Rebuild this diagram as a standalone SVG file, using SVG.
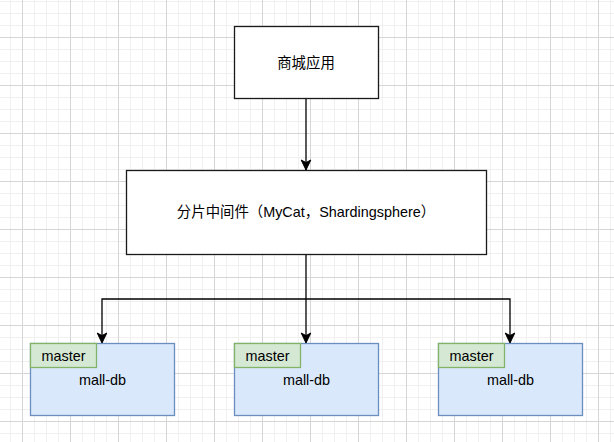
<svg xmlns="http://www.w3.org/2000/svg" width="614" height="442" viewBox="0 0 614 442">
<defs>
<pattern id="grid" x="22" y="37" width="48" height="48" patternUnits="userSpaceOnUse">
<rect x="0" y="0" width="48" height="48" fill="#ffffff"/>
<g fill="#f0f0f0">
<rect x="12" y="0" width="1" height="48"/><rect x="24" y="0" width="1" height="48"/><rect x="36" y="0" width="1" height="48"/>
<rect x="0" y="12" width="48" height="1"/><rect x="0" y="24" width="48" height="1"/><rect x="0" y="36" width="48" height="1"/>
</g>
<g fill="#d6d6d6">
<rect x="0" y="0" width="1" height="48"/><rect x="0" y="0" width="48" height="1"/>
</g>
</pattern>
<marker id="arrow" viewBox="-1 -6 13 12" refX="10" refY="0" markerWidth="13" markerHeight="12" markerUnits="userSpaceOnUse" orient="auto">
<path d="M10,0 L0,-4.8 L2.6,0 L0,4.8 Z" fill="#000" stroke="#000" stroke-width="1"/>
</marker>
</defs>
<style>
.box{fill:#ffffff;stroke:#1a1a1a;stroke-width:1.3}
.db{fill:#dae8fc;stroke:#6c8ebf;stroke-width:1.3}
.tab{fill:#d5e8d4;stroke:#82b366;stroke-width:1.3}
.t{font-family:"Liberation Sans","Noto Sans CJK SC",sans-serif;font-size:14.4px;fill:#000;text-anchor:middle}
.edge{fill:none;stroke:#000;stroke-width:1.3}
</style>
<rect x="0" y="0" width="614" height="442" fill="url(#grid)"/>
<g id="connectors">
<path class="edge" d="M306,98.5 L306,170" marker-end="url(#arrow)"/>
<path class="edge" d="M306,254.5 L306,343" marker-end="url(#arrow)"/>
<path class="edge" d="M306,299 L102,299 L102,343" marker-end="url(#arrow)"/>
<path class="edge" d="M306,299 L510,299 L510,343" marker-end="url(#arrow)"/>
</g>
<g id="app">
<rect class="box" x="234.5" y="26.5" width="144" height="72"/>
<text class="t" x="306" y="67.5">商城应用</text>
</g>
<g id="middleware">
<rect class="box" x="126.5" y="170.5" width="360" height="84"/>
<text class="t" x="306" y="217">分片中间件（MyCat，Shardingsphere）</text>
</g>
<g id="db1">
<rect class="db" x="30.5" y="343.5" width="144" height="72"/>
<rect class="tab" x="30.5" y="343.5" width="66" height="24"/>
<text class="t" x="63.5" y="360.5">master</text>
<text class="t" x="102.5" y="384.5">mall-db</text>
</g>
<g id="db2">
<rect class="db" x="234.5" y="343.5" width="144" height="72"/>
<rect class="tab" x="234.5" y="343.5" width="66" height="24"/>
<text class="t" x="267.5" y="360.5">master</text>
<text class="t" x="306.5" y="384.5">mall-db</text>
</g>
<g id="db3">
<rect class="db" x="438.5" y="343.5" width="144" height="72"/>
<rect class="tab" x="438.5" y="343.5" width="66" height="24"/>
<text class="t" x="471.5" y="360.5">master</text>
<text class="t" x="510.5" y="384.5">mall-db</text>
</g>
</svg>
